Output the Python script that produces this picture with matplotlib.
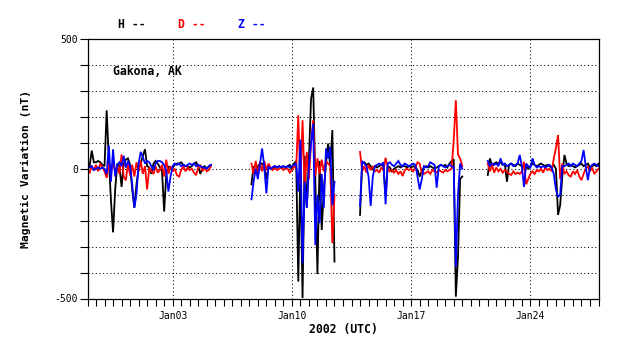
import numpy as np
import matplotlib
matplotlib.use("Agg")
import matplotlib.pyplot as plt

plt.rcParams['font.family'] = ['DejaVu Sans Mono']

# time in days since 2001-12-29 00:00 UT, samples every 3 hours
step = 0.125
seg_start = [0.0, 9.625, 16.0, 23.5]

# H component (nT)
h_vals = [
    [5, 10, 70, 25, 25, 30, 25, 15,
     10, 225, 40, -120, -245, -80, 20, 10,
     -70, 20, 35, 40, 15, -80, -150, -60,
     0, 20, 50, 75, 10, 5, -20, 20,
     30, 20, 5, -10, -165, -20, 10, 0,
     5, 15, 20, 20, 25, 15, 10, 10,
     5, 10, 20, 25, 10, -20, 5, 10,
     0, 10, 15],
    [-60, 10, -20,
     10, 20, 20, 10, -40, 5, 0, 5,
     10, 5, 10, 5, 10, 5, 10, 15,
     -5, 20, 30, -435, 10, -498, 50, -150,
     40, 270, 313, -50, -406, 30, -236, -80,
     20, 97, 10, 149, -358],
    [-178, 20, 25, 15, 20, 10, -5, 10,
     5, 10, 15, 10, -105, 10, 5, -10,
     0, 5, 10, 5, 10, 10, 5, 10,
     5, 10, 5, -5, -30, -10, 5, 10,
     5, 10, 5, 0, 5, 10, 15, 10,
     15, 5, 20, 30, 37, -493, -342, -40,
     -30],
    [-24, 40, 10, 20,
     25, 20, 25, 15, 20, -50, 15, 20,
     15, 10, 20, 15, 10, 5, 10, 0,
     10, 20, 15, 10, 15, 20, 15, 10,
     15, 10, 5, 15, 0, -178, -140, -30,
     53, 20, 10, 15, 10, 5, 10, 15,
     20, 10, 15, 20, 5, 10, 15, 10,
     20],
]

# D component (nT)
d_vals = [
    [-10, -15, 10, -5, 15, -10, 20, 5,
     -10, -35, 20, -20, 25, -10, 10, -20,
     55, -30, -45, 20, -25, 15, -30, 25,
     -10, 30, -20, 10, -80, 5, -10, -20,
     10, -15, -5, 15, -30, 35, -20, 10,
     -10, 0, -25, -30, -5, 10, -10, 5,
     -5, 0, -15, -25, 5, 15, -10, 5,
     -10, -5, 10],
    [20, -20, 30,
     -25, 25, -10, 30, -5, 20, 5, -5,
     5, -5, 0, 5, -5, 5, 0, -15,
     -5, 10, 0, 206, -60, 187, -80, 65,
     -40, 100, 187, -30, 40, -20, 35, -10,
     30, 20, 10, -287, -100],
    [65, -10, 10, -15, 15, -5, 10, -10,
     -5, -15, 5, -5, 42, 5, -10, -5,
     -15, -5, -20, -10, -28, -5, 0, -5,
     0, -10, 5, 25, 20, -15, -20, -15,
     -10, -20, -5, -10, -15, -5, -10, -15,
     -5, -10, -5, 0, 110, 264, 55, 40,
     10],
    [20, -10, 15, -15,
     5, -10, 0, -15, -5, -10, -20, -24,
     -10, -20, -15, -20, -10, 27, -60, -40,
     -20, -10, -20, -5, -10, 0, -15, 5,
     -5, 0, -10, 40, 80, 130, -40, 20,
     -20, -10, -25, -30, -10, -20, -5, -30,
     -44, -20, 0, 10, -10, 5, -20, -10,
     0],
]

# Z component (nT)
z_vals = [
    [10, 5, 10, -5, 0, 5, 0, 5,
     0, -20, 90, -50, 75, -30, 15, 25,
     10, 50, 5, 30, 10, -60, -150, -100,
     20, 65, 45, 20, 30, 25, 10, -5,
     20, 30, 30, 25, 15, -10, -88, -30,
     10, 20, 15, 20, 10, 15, 10, 15,
     20, 15, 20, 10, 15, 10, 5, 5,
     0, 10, 15],
    [-118, -50, 0,
     -40, 20, 78, 10, -95, 10, 0, 5,
     10, 5, 10, 5, 10, 5, 10, 5,
     10, 15, 20, -88, 112, -364, -50, -150,
     10, 100, 174, -294, -100, -210, -20, -150,
     78, 40, 85, -140, -50],
    [-143, 30, 20, 10, -30, -143, -30, 10,
     15, 20, 15, 25, -137, 20, 25, 15,
     10, 20, 30, 15, 10, 20, 15, 10,
     15, 20, 15, -30, -80, -40, 10, 5,
     10, 25, 20, 15, -73, 10, 15, 10,
     5, 10, 15, 10, 5, -378, -100, 20,
     0],
    [30, 10, 20, 15,
     20, 10, 40, 15, 20, 10, 15, 20,
     10, 15, 20, 53, 10, -70, 20, 10,
     5, 40, 15, 5, 10, 5, 10, 5,
     10, 15, 5, -20, -80, -108, -100, 10,
     10, 15, 20, 10, 20, 15, 10, 20,
     30, 72, 10, -44, 5, 15, 20, 15,
     10],
]

date_ticks = [5, 12, 19, 26]
date_labels = ['Jan03', 'Jan10', 'Jan17', 'Jan24']


def join_segments(segs):
    t_all, v_all = [], []
    for start, vals in zip(seg_start, segs):
        t_all.extend(list(start + step * np.arange(len(vals))) + [np.nan])
        v_all.extend(list(vals) + [np.nan])
    return np.array(t_all), np.array(v_all, dtype=float)


fig = plt.figure(figsize=(6.38, 3.59), dpi=100)
ax = fig.add_axes([87.5 / 638, 60.5 / 359, 511 / 638, 259.5 / 359])

for segs, col in [(h_vals, 'black'), (d_vals, 'red'), (z_vals, 'blue')]:
    t, v = join_segments(segs)
    ax.plot(t, v, color=col, lw=1.3, solid_joinstyle='miter')

ax.set_xlim(0, 30)
ax.set_ylim(-500, 500)

ax.set_yticks(np.arange(-500, 501, 100))
ax.set_yticklabels(['-500', '', '', '', '', '0', '', '', '', '', '500'])
ax.set_xticks(np.arange(0, 30.01, 0.5))
ax.set_xticklabels(['' for _ in np.arange(0, 30.01, 0.5)])
ax.tick_params(axis='y', length=6, width=0.8, direction='out', labelsize=7, pad=1)
ax.tick_params(axis='x', length=5, width=0.8, direction='out')

for y in range(-400, 401, 100):
    ax.axhline(y, color='black', lw=0.75, ls=(0, (1, 2.5)), zorder=0)
for d, lab in zip(date_ticks, date_labels):
    ax.axvline(d, color='black', lw=0.75, ls=(0, (1, 2.5)), zorder=0)
    ax.text(d, -0.05, lab, transform=ax.get_xaxis_transform(), ha='center',
            va='top', fontsize=7)

for s in ax.spines.values():
    s.set_linewidth(0.9)

ax.set_xlabel('2002 (UTC)', fontsize=8.3, fontweight='bold', labelpad=9)
ax.set_ylabel('Magnetic Variation (nT)', fontsize=8.2, fontweight='bold', labelpad=17)
ax.text(0.049, 0.875, 'Gakona, AK', transform=ax.transAxes, fontsize=8.3,
        fontweight='bold', va='center')

fig.text(118 / 638, 1 - 24 / 359, 'H --', color='black', fontsize=8.3,
         fontweight='bold', va='center')
fig.text(178 / 638, 1 - 24 / 359, 'D --', color='red', fontsize=8.3,
         fontweight='bold', va='center')
fig.text(238 / 638, 1 - 24 / 359, 'Z --', color='blue', fontsize=8.3,
         fontweight='bold', va='center')

fig.savefig('out.png', dpi=100)
